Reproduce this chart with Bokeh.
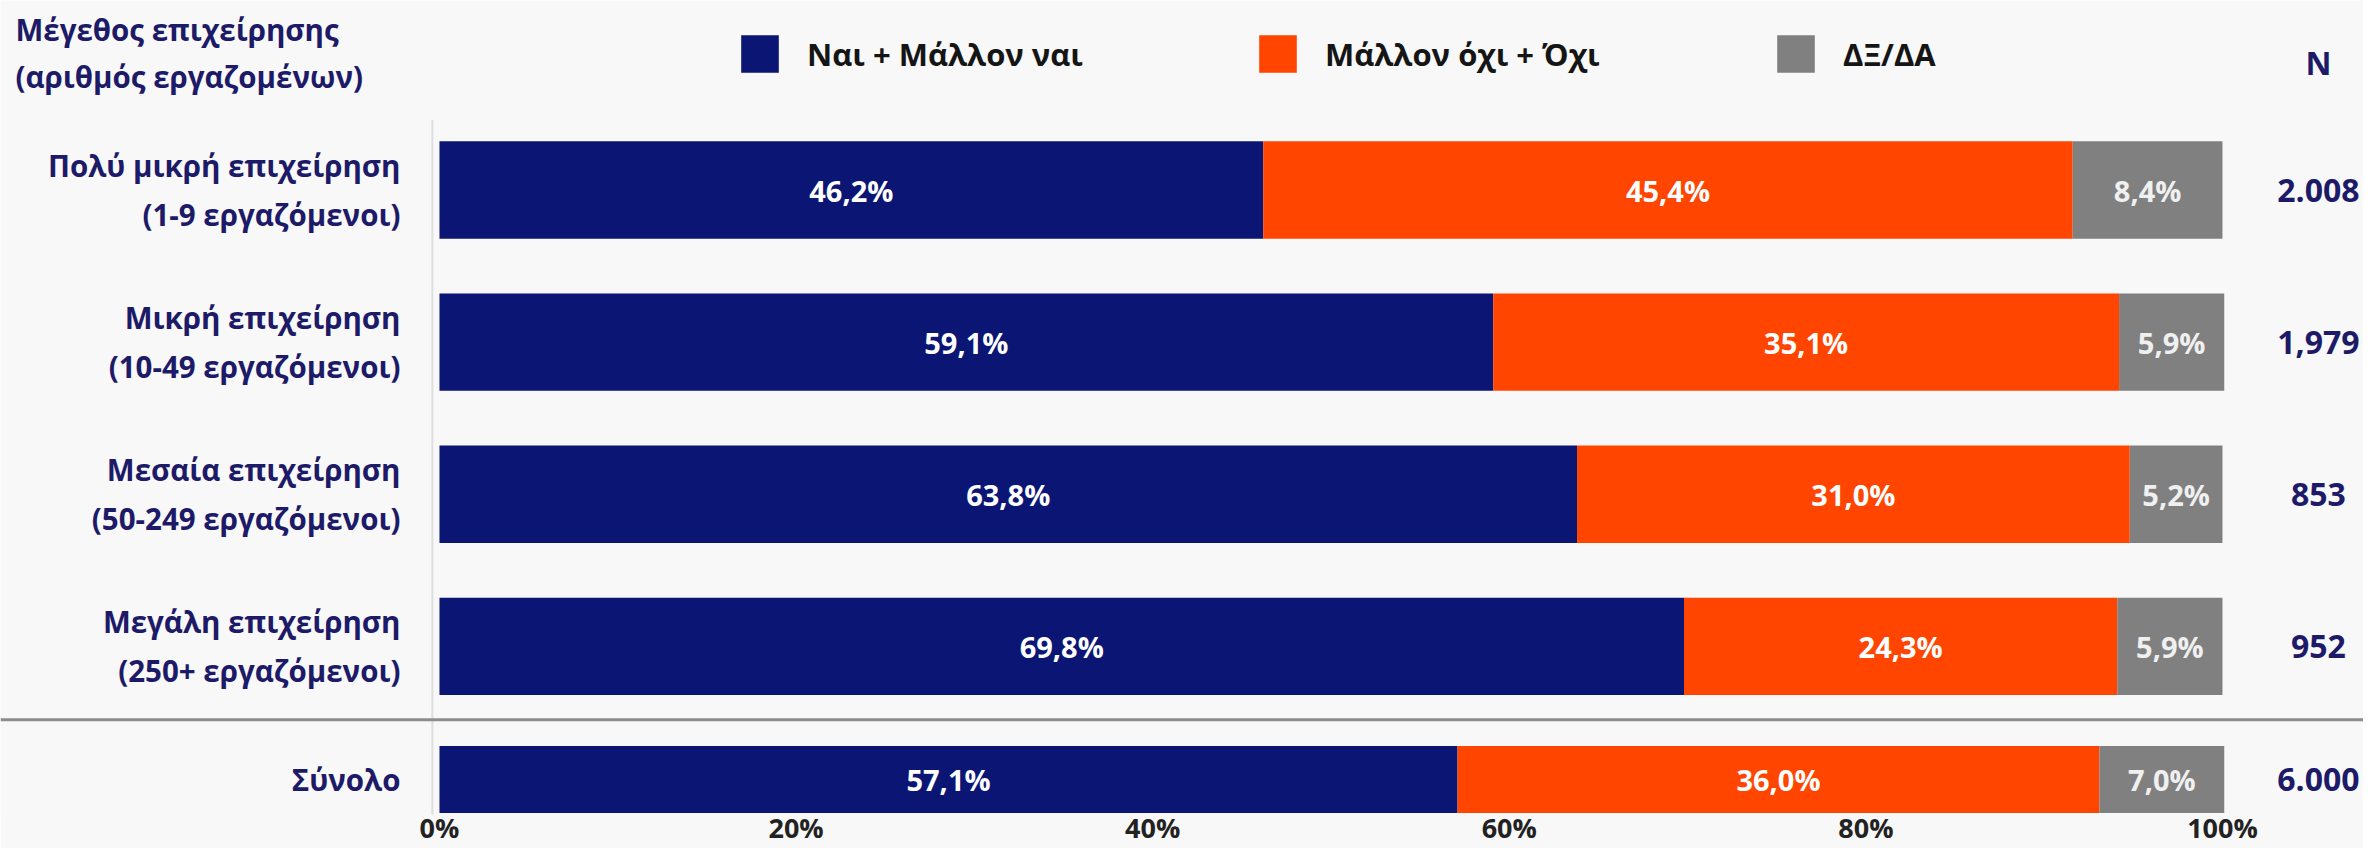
from bokeh.plotting import figure
from bokeh.models import (ColumnDataSource, Range1d, FixedTicker, Span, Label,
                          Legend, LegendItem, PrintfTickFormatter)
from bokeh.embed import file_html
from bokeh.resources import INLINE
from bokeh.core.properties import value

# ---------------- data ----------------
categories = [
    "Πολύ μικρή επιχείρηση\n(1-9 εργαζόμενοι)",
    "Μικρή επιχείρηση\n(10-49 εργαζόμενοι)",
    "Μεσαία επιχείρηση\n(50-249 εργαζόμενοι)",
    "Μεγάλη επιχείρηση\n(250+ εργαζόμενοι)",
    "Σύνολο",
]
yes_vals = [46.2, 59.1, 63.8, 69.8, 57.1]
no_vals = [45.4, 35.1, 31.0, 24.3, 36.0]
dk_vals = [8.4, 5.9, 5.2, 5.9, 7.0]
n_labels = ["2.008", "1,979", "853", "952", "6.000"]
series_names = ["Ναι + Μάλλον ναι", "Μάλλον όχι + Όχι", "ΔΞ/ΔΑ"]
tick_values = [0, 20, 40, 60, 80, 100]
header_text = "Μέγεθος επιχείρησης\n(αριθμός εργαζομένων)"
n_header = "N"

# ---------------- layout / style ----------------
series_colors = ["#0a1574", "#ff4500", "#808080"]
row_pos = [0, 1, 2, 3, 3.875]         # total row sits a bit closer
bar_heights = [0.64, 0.64, 0.64, 0.64, 0.44]
FONT = "Open Sans"
NAVY_TXT = "#1d1a68"
BG = "#f8f8f8"

def fmt(v):
    return ("%.1f" % v).replace(".", ",") + "%"

series = [yes_vals, no_vals, dk_vals]
lefts, rights = [], []
cum = [0.0] * len(row_pos)
for s in series:
    lefts.append(list(cum))
    cum = [c + v for c, v in zip(cum, s)]
    rights.append(list(cum))

p = figure(width=2363, height=848, output_backend="svg",
           toolbar_location=None, min_border=0,
           x_range=Range1d(-24.62, 107.91), y_range=Range1d(4.105, -1.2459))
p.background_fill_color = BG
p.border_fill_color = BG
p.outline_line_color = None
p.grid.visible = False
p.yaxis.visible = False

xa = p.xaxis[0]
xa.ticker = FixedTicker(ticks=tick_values)
xa.formatter = PrintfTickFormatter(format="%d%%")
xa.axis_line_color = None
xa.major_tick_line_color = None
xa.minor_tick_line_color = None
xa.major_label_text_font = FONT
xa.major_label_text_font_style = "bold"
xa.major_label_text_font_size = "27px"
xa.major_label_text_color = "#222222"
xa.major_label_standoff = -12

# faint axis line left of the bars
p.segment(x0=[-0.4], y0=[row_pos[0] - 0.46], x1=[-0.4], y1=[row_pos[-1] + 0.3],
          line_color="#dedede", line_width=2)

renderers = []
for i, s in enumerate(series):
    src = ColumnDataSource(dict(y=row_pos, h=bar_heights, left=lefts[i], right=rights[i],
                                mid=[(a + b) / 2 for a, b in zip(lefts[i], rights[i])],
                                lab=[fmt(v) for v in s]))
    r = p.hbar(y="y", left="left", right="right", height="h", source=src,
               fill_color=series_colors[i], line_color=None)
    renderers.append(r)
    p.text(x="mid", y="y", text="lab", source=src, text_align="center",
           text_baseline="middle", text_color="#ffffff" if i < 2 else "#f0f0f0",
           text_font=value(FONT), text_font_style="bold", text_font_size="29px")

# category labels
cat_src = ColumnDataSource(dict(y=row_pos, x=[-2.19] * len(row_pos), t=categories))
p.text(x="x", y="y", text="t", source=cat_src, text_align="right",
       text_baseline="middle", text_color=NAVY_TXT, text_font=value(FONT),
       text_font_style="bold", text_font_size="29.5px", text_line_height=1.195)

# N values
n_src = ColumnDataSource(dict(y=row_pos, x=[105.38] * len(row_pos), t=n_labels))
p.text(x="x", y="y", text="t", source=n_src, text_align="center",
       text_baseline="middle", text_color=NAVY_TXT, text_font=value(FONT),
       text_font_style="bold", text_font_size="32px")

# separator before total
p.add_layout(Span(location=3.482, dimension="width", line_color="#8c8c8c", line_width=3))

# header texts
p.add_layout(Label(x=-23.78, y=-0.898, text=header_text, text_align="left",
                   text_baseline="middle", text_color=NAVY_TXT, text_font=FONT,
                   text_font_style="bold", text_font_size="29.5px", text_line_height=1.145))
p.add_layout(Label(x=105.38, y=-0.839, text=n_header, text_align="center",
                   text_baseline="middle", text_color=NAVY_TXT, text_font=FONT,
                   text_font_style="bold", text_font_size="32px"))

legend = Legend(items=[LegendItem(label=n, renderers=[r]) for n, r in zip(series_names, renderers)],
                orientation="horizontal", location=(736, 737),
                glyph_width=47, glyph_height=47, label_height=47, label_width=430,
                label_standoff=24, spacing=17, padding=0, margin=0,
                border_line_alpha=0, background_fill_alpha=0,
                label_text_font=FONT, label_text_font_style="bold",
                label_text_font_size="31px", label_text_color="#151515")
p.add_layout(legend)

open("out.html", "w").write(file_html(p, INLINE))
